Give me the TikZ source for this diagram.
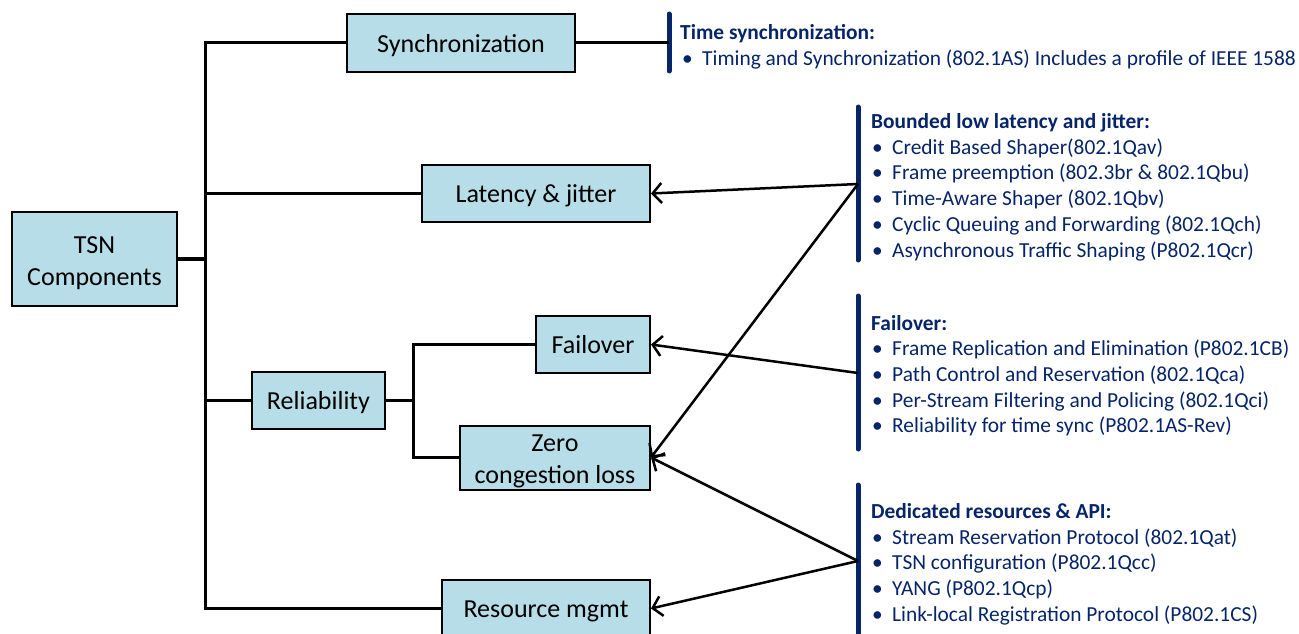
\documentclass[tikz,border=0pt]{standalone}
\usepackage{fontspec}
\setmainfont{Carlito}
\usetikzlibrary{arrows.meta}
\definecolor{boxblue}{HTML}{B7DEE8}
\definecolor{navy}{HTML}{062468}
% bullet followed by the item text, with a fixed hanging offset
\newcommand{\li}[1]{\makebox[21pt][l]{\hspace{1pt}\textbullet}#1}
% two centred lines, lowered a little inside their box
\newcommand{\twolines}[2]{\raisebox{-4pt}[\height][\depth]{\begin{tabular}{@{}c@{}}#1\\#2\end{tabular}}}
\begin{document}
\begin{tikzpicture}[x=1pt,y=-1pt,
  box/.style={draw=black, line width=2pt, fill=boxblue, inner sep=0pt,
    font=\fontsize{26}{32}\selectfont,
    execute at begin node={\rule{0pt}{23.4pt}},
    execute at end node={\rule[-5.2pt]{0pt}{5.2pt}}},
  bar/.style={draw=navy, line width=5pt, line cap=round},
  link/.style={draw=black, line width=2.5pt},
  arr/.style={link, -{Straight Barb[length=9pt,width=20pt,line width=2.5pt]}},
  head/.style={anchor=base west, inner sep=0pt, text=navy,
    font=\fontsize{21.4}{25.7}\selectfont\bfseries},
  item/.style={anchor=base west, inner sep=0pt, text=navy,
    font=\fontsize{21.4}{25.7}\selectfont},
]
\useasboundingbox (0,0) rectangle (1299,634);
\clip (0,0) rectangle (1299,634);

% ---- component boxes ----
\node[box, minimum width=165pt, minimum height=94pt] (tsn)  at (94.5,259)   {\twolines{TSN}{Components}};
\node[box, minimum width=228pt, minimum height=58pt] (sync) at (461,43)     {Synchronization};
\node[box, minimum width=228pt, minimum height=57pt] (lat)  at (536,193.5)  {Latency \& jitter};
\node[box, minimum width=133pt, minimum height=57pt] (rel)  at (318.5,400.5){Reliability};
\node[box, minimum width=114pt, minimum height=57pt] (fail) at (593,344.5)  {Failover};
\node[box, minimum width=190pt, minimum height=57pt] (zero) at (555,457.5)  {\twolines{Zero}{congestion loss}};
\node[box, minimum width=208pt, minimum height=57pt] (res)  at (546,608.5)  {Resource mgmt};

% ---- tree connectors ----
\coordinate (trunk) at (205,0);
\coordinate (fork)  at (413,0);
\draw[link, line width=3pt] (sync.west) -- (sync.west -| trunk) -- (res.west -| trunk) -- (res.west);
\draw[link, line width=4pt] (tsn.east) -- (tsn.east -| trunk);
\draw[link] (lat.west) -- (lat.west -| trunk);
\draw[link] (rel.west) -- (rel.west -| trunk);
\draw[link, line width=3.5pt] (rel.east) -- (rel.east -| fork);
\draw[link, line width=3pt] (fail.west) -- (fail.west -| fork) -- (zero.west -| fork) -- (zero.west);

% ---- standard bars ----
\coordinate (b1top) at (669,14);  \coordinate (b1bot) at (669,71);
\coordinate (b2top) at (858,107); \coordinate (b2bot) at (858,260);
\coordinate (b3top) at (858,296); \coordinate (b3bot) at (858,449);
\coordinate (b4top) at (858,485); \coordinate (b4bot) at (858,660);
\draw[bar] (b1top) -- (b1bot);
\draw[bar] (b2top) -- (b2bot);
\draw[bar] (b3top) -- (b3bot);
\draw[bar] (b4top) -- (b4bot);

% ---- links from the standards to the components ----
\coordinate (b1in)  at (669,43);
\coordinate (b2out) at (858,184);
\coordinate (b3out) at (858,373);
\coordinate (b4out) at (858,561);
\draw[link, line width=3pt] (sync.east) -- (b1in);
\draw[arr] (b2out) -- (lat.east);
\draw[arr] (b2out) -- (zero.east);
\draw[arr] (b3out) -- (fail.east);
\draw[arr] (b4out) -- (zero.east);
\draw[arr] (b4out) -- (res.east);

% ---- standard lists ----
\node[head] (h1) at (680,40) {Time synchronization:};
\node[item] (i11) at (681,65.5) {\li{Timing and Synchronization (802.1AS) Includes a profile of IEEE 1588}};

\node[head] (h2) at (871,128.5) {Bounded low latency and jitter:};
\node[item] (i21) at (871,154.2) {\li{Credit Based Shaper(802.1Qav)}};
\node[item] (i22) at (871,179.9) {\li{Frame preemption (802.3br \& 802.1Qbu)}};
\node[item] (i23) at (871,205.6) {\li{Time-Aware Shaper (802.1Qbv)}};
\node[item] (i24) at (871,231.3) {\li{Cyclic Queuing and Forwarding (802.1Qch)}};
\node[item] (i25) at (871,257.0) {\li{Asynchronous Traffic Shaping (P802.1Qcr)}};

\node[head] (h3) at (871,330) {Failover:};
\node[item] (i31) at (871,355.7) {\li{Frame Replication and Elimination (P802.1CB)}};
\node[item] (i32) at (871,381.4) {\li{Path Control and Reservation (802.1Qca)}};
\node[item] (i33) at (871,407.1) {\li{Per-Stream Filtering and Policing (802.1Qci)}};
\node[item] (i34) at (871,432.8) {\li{Reliability for time sync (P802.1AS-Rev)}};

\node[head] (h4) at (871,518.5) {Dedicated resources \& API:};
\node[item] (i41) at (871,544.2) {\li{Stream Reservation Protocol (802.1Qat)}};
\node[item] (i42) at (871,569.9) {\li{TSN configuration (P802.1Qcc)}};
\node[item] (i43) at (871,595.6) {\li{YANG (P802.1Qcp)}};
\node[item] (i44) at (871,621.3) {\li{Link-local Registration Protocol (P802.1CS)}};
\end{tikzpicture}
\end{document}
